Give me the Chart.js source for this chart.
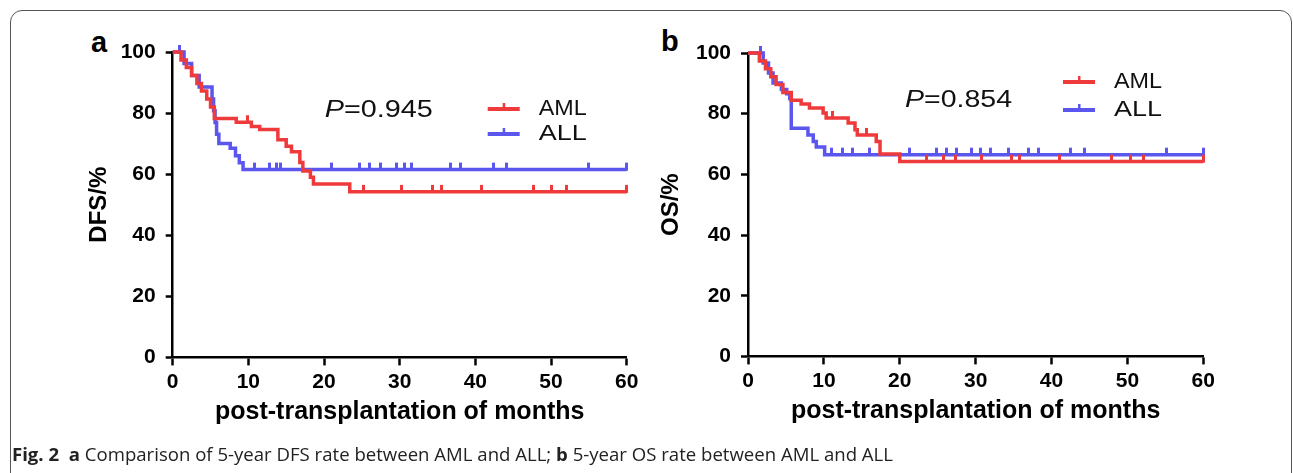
<!DOCTYPE html>
<html>
<head>
<meta charset="utf-8">
<script src="https://cdn.jsdelivr.net/npm/chart.js@4.4.0/dist/chart.umd.min.js"></script>
<style>
  body { margin: 0; background: #fff; width: 1293px; height: 473px; overflow: hidden; position: relative; font-family: "Liberation Sans", Arial, sans-serif; }
  .frame { position: absolute; left: 10px; top: 10px; width: 1282px; height: 500px; border: 1.5px solid #555; border-radius: 12px; box-sizing: border-box; }
  .panel { position: absolute; top: 20px; width: 600px; height: 425px; }
  .tag { position: absolute; font-weight: bold; font-size: 29px; color: #000; }
  .caption { position: absolute; left: 12px; top: 442px; font-size: 18px; color: #222; white-space: nowrap; font-family: "Open Sans", sans-serif; transform-origin: 0 0; }
</style>
</head>
<body>
<div class="frame"></div>
<div class="tag" style="left:91px; top:26px;">a</div>
<div class="tag" style="left:661px; top:25px;">b</div>
<div class="panel" style="left:60px;"><canvas id="chartA"></canvas></div>
<div class="panel" style="left:633px;"><canvas id="chartB"></canvas></div>
<div class="caption" id="cap"><b>Fig. 2</b>&nbsp; <b>a</b> Comparison of 5-year DFS rate between AML and ALL; <b>b</b> 5-year OS rate between AML and ALL</div>

<script>
// months where the curve steps down, and survival (%) right after the step
const dfsAmlMonths = [0, 1.1, 1.8, 2.5, 3.2, 3.8, 4.5, 5.0, 5.5, 8.4, 10.4, 11.5, 13.9, 15.0, 15.7, 16.8, 17.2, 18.2, 18.6, 23.4];
const dfsAmlRate   = [100, 97.4, 94.9, 92.3, 89.7, 87.2, 84.6, 82.0, 78.2, 77.0, 75.6, 74.6, 71.3, 69.1, 67.3, 63.8, 61.0, 59.0, 56.8, 54.2];
const dfsAmlCensor = [9.9, 25.2, 30.2, 34.4, 35.5, 40.8, 47.7, 50.1, 52.1, 60];

const dfsAllMonths = [0, 1.5, 2.5, 3.5, 5.2, 5.4, 5.6, 5.8, 6.1, 7.6, 8.3, 8.8, 9.3];
const dfsAllRate   = [100, 96.2, 92.3, 88.5, 84.6, 80.8, 76.9, 73.1, 70.0, 68.5, 66.0, 63.7, 61.5];
const dfsAllCensor = [0.9, 10.8, 12.8, 13.7, 14.3, 21.0, 24.7, 26.0, 27.4, 29.6, 30.6, 31.6, 36.7, 38.1, 42.4, 44.1, 55.0, 60];

const osAmlMonths = [0, 1.5, 2.3, 3.0, 3.7, 4.6, 5.7, 7.0, 8.1, 9.9, 10.3, 13.2, 14.1, 14.4, 16.9, 17.4, 20.0];
const osAmlRate   = [100, 97.4, 94.8, 92.2, 89.6, 87.0, 84.4, 83.2, 81.9, 80.2, 78.6, 76.9, 74.7, 73.0, 70.8, 66.7, 64.2];
const osAmlCensor = [11.2, 15.6, 23.5, 25.8, 27.3, 30.8, 34.7, 35.8, 41.1, 47.9, 50.4, 52.1, 60];

const osAllMonths = [0, 2.0, 2.7, 3.3, 4.4, 5.1, 5.5, 5.7, 7.9, 8.6, 9.0, 10.1];
const osAllRate   = [100, 96.7, 93.4, 90.1, 88.0, 86.6, 85.0, 75.2, 73.0, 70.8, 69.0, 66.5];
const osAllCensor = [1.6, 11.0, 12.5, 13.8, 16.0, 21.3, 24.8, 26.2, 27.5, 29.5, 30.6, 31.9, 34.3, 37.0, 38.3, 42.5, 44.4, 55.2, 60];

const xTicks = [0, 10, 20, 30, 40, 50, 60];
const yTicks = [0, 20, 40, 60, 80, 100];

const RED = '#ef3a3c';
const BLUE = '#5a56ee';
const FONT = '"Liberation Sans", Arial, sans-serif';

// survival value at a given month (for placing censor marks)
function rateAt(months, rate, t) {
  let v = rate[0];
  for (let i = 0; i < months.length; i++) {
    if (months[i] <= t) v = rate[i];
  }
  return v;
}

function buildPoints(months, rate, censor) {
  const pts = months.map((m, i) => ({ x: m, y: rate[i], c: false }));
  censor.forEach(t => pts.push({ x: t, y: rateAt(months, rate, t), c: true }));
  pts.sort((a, b) => a.x - b.x || (a.c ? 1 : -1));
  return pts;
}

// little upward tick used for censored cases
function censorMark(color) {
  const c = document.createElement('canvas');
  c.width = 3;
  c.height = 16;
  const g = c.getContext('2d');
  g.fillStyle = color;
  g.fillRect(0, 1, 3, 8);
  return c;
}

function series(label, color, months, rate, censor) {
  return {
    label: label,
    data: buildPoints(months, rate, censor),
    borderColor: color,
    backgroundColor: color,
    borderWidth: 3.5,
    stepped: 'before',
    fill: false,
    clip: false,
    pointStyle: censorMark(color),
    pointRadius: ctx => (ctx.raw && ctx.raw.c ? 2 : 0),
  };
}

// text stretched horizontally to a given width
function wideText(ctx, parts, x, y, width) {
  let total = 0;
  parts.forEach(p => { ctx.font = p.font; total += ctx.measureText(p.text).width; });
  ctx.save();
  ctx.translate(x, y);
  ctx.scale(width / total, 1);
  let cx = 0;
  parts.forEach(p => { ctx.font = p.font; ctx.fillText(p.text, cx, 0); cx += ctx.measureText(p.text).width; });
  ctx.restore();
}

const overlay = {
  id: 'overlay',
  afterDraw(chart, args, o) {
    const { ctx, chartArea: a } = chart;
    ctx.save();
    ctx.textBaseline = 'middle';
    ctx.fillStyle = '#111';
    // P value
    wideText(ctx, [
      { text: 'P', font: 'italic 24px ' + FONT },
      { text: '=' + o.p, font: '24px ' + FONT }
    ], a.left + o.px, a.top + o.py, o.pw);
    // legend
    o.items.forEach((it, i) => {
      const y = a.top + o.ly + i * o.gap;
      const x = a.left + o.lx;
      ctx.fillStyle = it.color;
      ctx.fillRect(x, y - 2, 32, 4);
      ctx.fillRect(x + 15, y - 6, 2.5, 5);
      ctx.fillStyle = '#111';
      wideText(ctx, [{ text: it.label, font: '22px ' + FONT }], x + 51, y, 48);
    });
    ctx.restore();
  }
};

function makeChart(id, yTitle, datasets, geo, ov) {
  return new Chart(document.getElementById(id).getContext('2d'), {
    type: 'line',
    data: { datasets: datasets },
    plugins: [overlay],
    options: {
      responsive: true,
      maintainAspectRatio: false,
      animation: false,
      events: [],
      layout: { padding: { left: geo.left, top: geo.top, right: geo.right, bottom: geo.bottom } },
      scales: {
        x: {
          type: 'linear',
          min: 0,
          max: 60,
          afterFit: s => { s.height = 74; },
          afterBuildTicks: s => { s.ticks = xTicks.map(v => ({ value: v })); },
          ticks: { color: '#000', padding: 4, font: { family: FONT, weight: 'bold', size: 21 } },
          grid: { display: true, drawOnChartArea: false, drawTicks: true, tickLength: 8, tickWidth: 2.5, tickColor: '#000' },
          border: { display: true, color: '#000', width: 2.5 },
          title: { display: true, text: 'post-transplantation of months', color: '#000', font: { family: FONT, weight: 'bold', size: 25 } }
        },
        y: {
          min: 0,
          max: 100,
          afterFit: s => { s.width = geo.yw; },
          afterBuildTicks: s => { s.ticks = yTicks.map(v => ({ value: v })); },
          ticks: { color: '#000', padding: 10, font: { family: FONT, weight: 'bold', size: 21 } },
          grid: { display: true, drawOnChartArea: false, drawTicks: true, tickLength: 7, tickWidth: 2.5, tickColor: '#000' },
          border: { display: true, color: '#000', width: 2.5 },
          title: { display: true, text: yTitle, color: '#000', font: { family: FONT, weight: 'bold', size: 24 } }
        }
      },
      plugins: {
        legend: { display: false },
        tooltip: { enabled: false },
        overlay: ov
      }
    }
  });
}

makeChart('chartA', 'DFS/%', [
  series('AML', RED, dfsAmlMonths, dfsAmlRate, dfsAmlCensor),
  series('ALL', BLUE, dfsAllMonths, dfsAllRate, dfsAllCensor)
], { left: 20.6, yw: 92.1, top: 32, right: 33.3, bottom: 13.6 },
{ p: '0.945', px: 152, py: 58, pw: 108, lx: 315, ly: 57, gap: 25, items: [{ label: 'AML', color: RED }, { label: 'ALL', color: BLUE }] });

makeChart('chartB', 'OS/%', [
  series('AML', RED, osAmlMonths, osAmlRate, osAmlCensor),
  series('ALL', BLUE, osAllMonths, osAllRate, osAllCensor)
], { left: 19.6, yw: 95.4, top: 33, right: 29.7, bottom: 14.6 },
{ p: '0.854', px: 157, py: 47.5, pw: 107, lx: 315, ly: 29, gap: 28, items: [{ label: 'AML', color: RED }, { label: 'ALL', color: BLUE }] });

// stretch caption to the reference width
const cap = document.getElementById('cap');
cap.style.transform = 'scaleX(' + (881 / cap.getBoundingClientRect().width) + ')';
</script>
</body>
</html>
